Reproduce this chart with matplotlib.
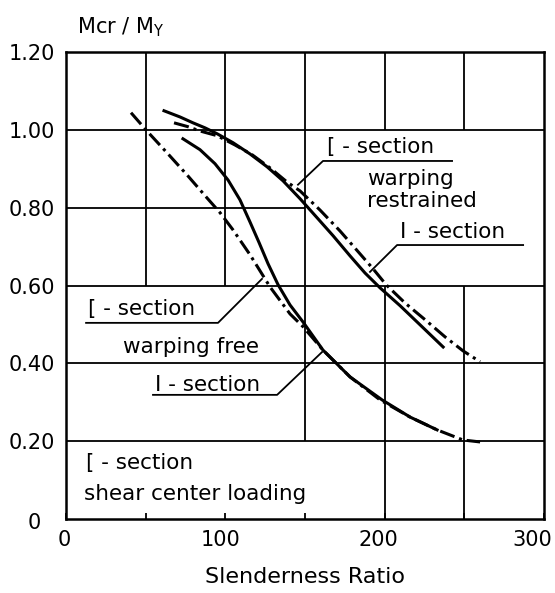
import matplotlib
matplotlib.use("Agg")
import matplotlib.pyplot as plt
from matplotlib.transforms import ScaledTranslation

# ---- data ----
# Upper pair: warping restrained
c_rest_x = [61.5, 71.6, 79.7, 87.3, 94.8, 104.8, 115.5, 126.2, 136.2, 146.9, 157.6, 167.6, 178.3, 187.7, 197.1, 209.7, 222.2, 236.7]
c_rest_y = [1.049, 1.033, 1.018, 1.005, 0.990, 0.967, 0.938, 0.905, 0.869, 0.823, 0.774, 0.728, 0.676, 0.632, 0.594, 0.548, 0.499, 0.442]
i_rest_x = [67.8, 76.6, 84.1, 94.8, 106.1, 116.8, 128.1, 138.7, 146.9, 159.4, 172.0, 184.6, 192.7, 200.9, 212.8, 225.4, 237.9, 249.2, 259.9]
i_rest_y = [1.018, 1.008, 0.997, 0.985, 0.961, 0.936, 0.902, 0.866, 0.843, 0.794, 0.740, 0.681, 0.643, 0.602, 0.555, 0.512, 0.468, 0.432, 0.404]
# Lower pair: warping free
i_free_x = [40.8, 50.8, 63.4, 76.0, 88.5, 96.7, 104.8, 115.5, 128.1, 140.6, 148.8, 161.3, 178.3, 197.1, 215.9, 232.9, 249.2, 259.9]
i_free_y = [1.044, 0.997, 0.941, 0.884, 0.825, 0.787, 0.743, 0.679, 0.596, 0.527, 0.494, 0.434, 0.365, 0.306, 0.262, 0.229, 0.203, 0.198]
c_free_x = [73.4, 84.1, 93.5, 101.7, 109.2, 115.5, 121.2, 126.8, 133.1, 140.6, 148.8, 161.3, 178.3, 198.4, 215.9, 232.9]
c_free_y = [0.977, 0.949, 0.913, 0.871, 0.820, 0.763, 0.710, 0.656, 0.602, 0.550, 0.506, 0.434, 0.365, 0.306, 0.262, 0.229]

x_ticks = [0, 50, 100, 150, 200, 250, 300]
x_ticklabels = ["0", "", "100", "", "200", "", "300"]
y_ticks = [0, 0.2, 0.4, 0.6, 0.8, 1.0, 1.2]
y_ticklabels = ["0", "0.20", "0.40", "0.60", "0.80", "1.00", "1.20"]

# ---- figure ----
plt.rcParams['font.family'] = ['DejaVu Sans']
fig = plt.figure(figsize=(5.55, 5.93), dpi=100)
ax = fig.add_axes([66/555, 74/593, (544-66)/555, (519-52)/593])
ax.set_xlim(0, 300)
ax.set_ylim(0, 1.2)

for s in ax.spines.values():
    s.set_linewidth(1.8)

gl = dict(color='black', lw=1.3, zorder=1)
ax.hlines([0.2, 0.4, 0.6, 1.0], 0, 300, **gl)
ax.hlines(0.8, 0, 150, **gl)
ax.vlines([50, 100], 0.6, 1.2, **gl)
ax.vlines(150, 0.2, 1.2, **gl)
ax.vlines([200, 250], 0, 0.6, **gl)
ax.vlines([200, 250], 1.0, 1.2, **gl)

ax.set_xticks(x_ticks)
ax.set_xticklabels(x_ticklabels)
ax.set_yticks(y_ticks)
ax.set_yticklabels(y_ticklabels)
ax.tick_params(axis='x', direction='in', length=4, width=1.3, labelsize=15, pad=8)
ax.tick_params(axis='y', length=0, labelsize=15, pad=8)

# small shifts of tick labels as in the reference
x_shift = {"0": -2, "100": -5, "200": -6, "300": -12}
for lab in ax.get_xticklabels():
    t = lab.get_text()
    if t in x_shift:
        lab.set_transform(lab.get_transform() + ScaledTranslation(x_shift[t]/100, 0, fig.dpi_scale_trans))
for lab in ax.get_yticklabels():
    if lab.get_text() == "0":
        lab.set_transform(lab.get_transform() + ScaledTranslation(-14/100, -2/100, fig.dpi_scale_trans))

lw = 2.2
dashdot = (0, (5, 1.6, 1, 1.6))
ax.plot(c_rest_x, c_rest_y, color='black', lw=lw, zorder=3)
ax.plot(i_rest_x, i_rest_y, color='black', lw=lw, ls=dashdot, zorder=3)
ax.plot(i_free_x, i_free_y, color='black', lw=lw, ls=dashdot, zorder=3)
ax.plot(c_free_x, c_free_y, color='black', lw=lw, zorder=3)

# ---- annotations ----
fs = 15.5
def label(x, y, s):
    ax.text(x, y, s, fontsize=fs, ha='left', va='center', zorder=4)

def leader(xs, ys):
    ax.plot(xs, ys, color='black', lw=1.3, zorder=4)

label(163.8, 0.956, "[ - section")
leader([242.3, 161.3, 145.6], [0.920, 0.920, 0.859])
label(189, 0.874, "warping")
label(189, 0.817, "restrained")

label(209.7, 0.737, "I - section")
leader([286.9, 207.8, 190.8], [0.704, 0.704, 0.635])

label(13.8, 0.540, "[ - section")
leader([12.6, 95.4, 123.0], [0.504, 0.504, 0.617])
label(35.8, 0.442, "warping free")

label(55.9, 0.345, "I - section")
leader([54.6, 132.5, 160.7], [0.319, 0.319, 0.429])

label(12.6, 0.144, "[ - section")
label(11.3, 0.064, "shear center loading")

fig.text(77/555, 1 - 27/593, r"Mcr / M$_\mathregular{Y}$", fontsize=15, ha='left', va='center')
ax.set_xlabel("Slenderness Ratio", fontsize=16, labelpad=12)

fig.savefig("out.png", dpi=100)
